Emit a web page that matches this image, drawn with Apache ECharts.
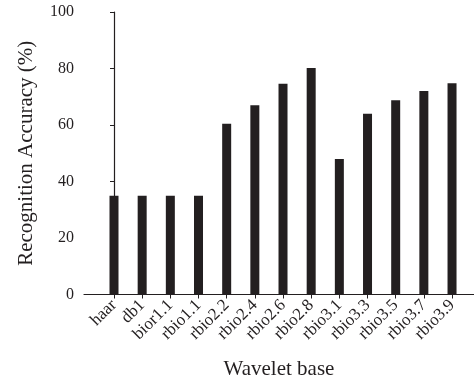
<!DOCTYPE html>
<html>
<head>
<meta charset="utf-8">
<script src="https://cdn.jsdelivr.net/npm/echarts@6/dist/echarts.min.js"></script>
<style>html,body{margin:0;padding:0;background:#fff;}#c{width:474px;height:387px;}</style>
</head>
<body>
<div id="c"></div>
<script>
const categories = ['haar','db1','bior1.1','rbio1.1','rbio2.2','rbio2.4','rbio2.6','rbio2.8','rbio3.1','rbio3.3','rbio3.5','rbio3.7','rbio3.9'];
const accuracy = [35, 35, 35, 35, 60.4, 67, 74.6, 80.2, 48, 64, 68.8, 72, 74.8];
const yTicks = [0, 20, 40, 60, 80, 100];

const chart = echarts.init(document.getElementById('c'));
const font = 'Liberation Serif';
const idx = categories.map((_, i) => i);
chart.setOption({
  animation: false,
  grid: { left: 84, right: 0, top: 12, bottom: 92.5, containLabel: false },
  xAxis: {
    type: 'value', min: -1.065, max: 12.78,
    splitLine: { show: false },
    axisLine: { show: true, lineStyle: { color: '#231f20', width: 1.2 } },
    axisTick: { show: true, length: 4, lineStyle: { color: '#231f20' }, customValues: idx },
    axisLabel: {
      customValues: idx, rotate: 45, margin: 8,
      fontFamily: font, fontSize: 17, color: '#231f20',
      formatter: v => categories[Math.round(v)] || ''
    },
    name: 'Wavelet base', nameLocation: 'middle', nameGap: 64,
    nameTextStyle: { fontFamily: font, fontSize: 21, color: '#231f20' }
  },
  yAxis: {
    type: 'value', min: 0, max: 100, interval: 20,
    splitLine: { show: false },
    axisLine: { show: true, lineStyle: { color: '#231f20', width: 1.2 } },
    axisTick: { show: true, length: 4, lineStyle: { color: '#231f20' } },
    axisLabel: { fontFamily: font, fontSize: 16, color: '#231f20', margin: 10,
      formatter: v => yTicks.includes(v) ? String(v) : '' },
    name: 'Recognition Accuracy (%)', nameLocation: 'middle', nameGap: 47,
    nameTextStyle: { fontFamily: font, fontSize: 21, color: '#231f20' }
  },
  series: [{
    type: 'bar', barWidth: 9,
    itemStyle: { color: '#231f20' },
    data: categories.map((c, i) => [i, accuracy[i]])
  }]
});
</script>
</body>
</html>
